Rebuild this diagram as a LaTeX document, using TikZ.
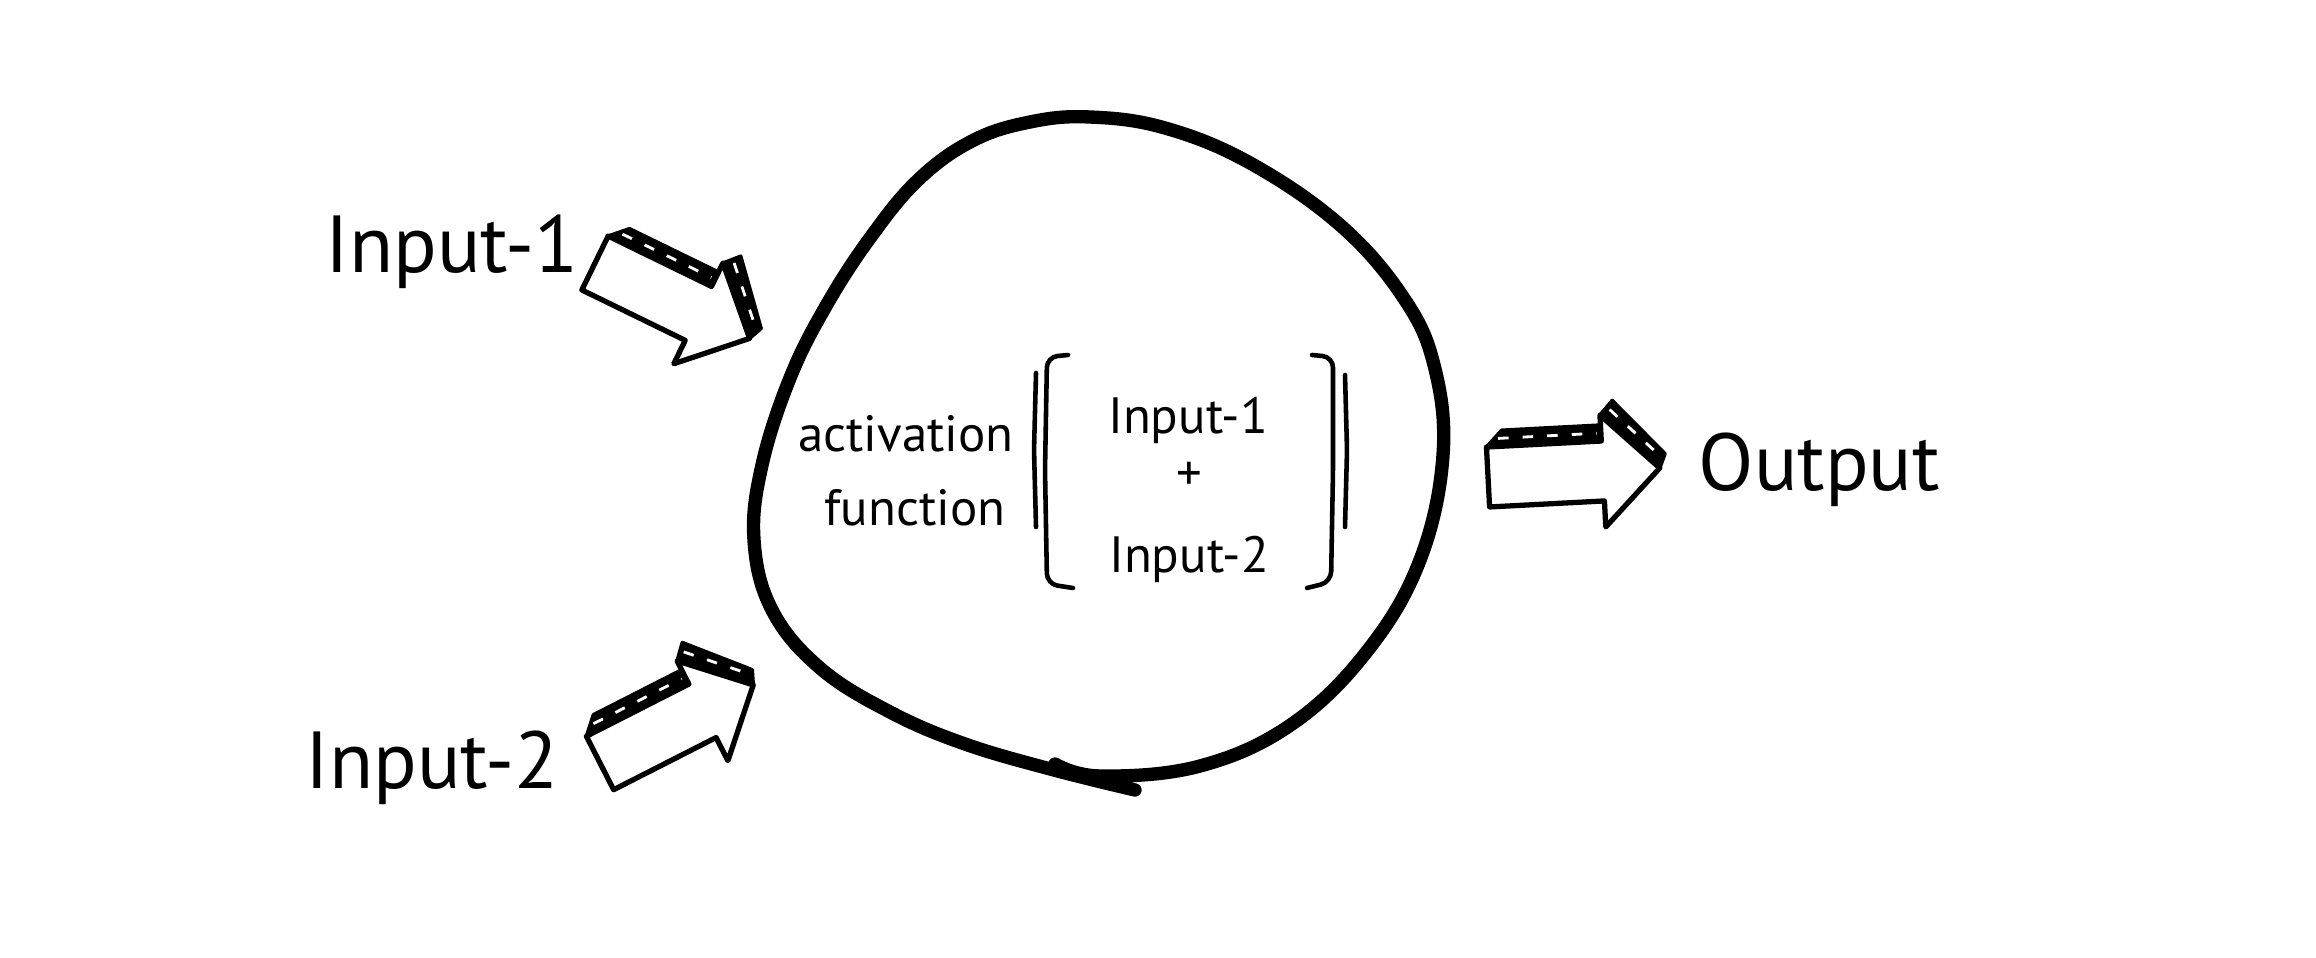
\documentclass[tikz,border=0pt]{standalone}
\usepackage{fontspec}
\setmainfont{PT Sans}
\begin{document}
\begin{tikzpicture}[x=0.01cm, y=-0.01cm]
  \tikzstyle{lbl}=[font=\fontsize{23}{27}\selectfont, inner sep=0pt]
  \tikzstyle{innertxt}=[font=\fontsize{14.5}{20}\selectfont, inner sep=0pt, anchor=base]
  \tikzstyle{barline}=[line width=1.3pt, line cap=round, line join=round, rounded corners=3pt]
  \tikzstyle{blk}=[draw, fill=white, line width=1.5pt, line join=round]
  \tikzstyle{face}=[draw, fill=black, line width=1pt, line join=round]
  \tikzstyle{hatch}=[white, line width=0.8pt, dash pattern=on 3pt off 4pt]
  \useasboundingbox[fill=white] (0,0) rectangle (2316,958);

  % neuron
  \draw[line width=3.8pt, line cap=round] plot[smooth, tension=0.65] coordinates {
    (1055,764) (1100,776) (1200,766) (1292,724) (1368,650) (1420,560) (1443,455)
    (1434,365) (1403,297) (1340,225) (1250,163) (1165,128) (1090,117) (1030,122)
    (972,141) (918,180) (870,238) (826,306) (790,378) (762,465) (754,540) (772,610)
    (820,668) (890,712) (965,744) (1054,770) (1135,790)};

  \node[innertxt] (act) at (906,452) {activation};
  \node[innertxt] (fn) at (915,525) {function};
  \node[innertxt] (sum1) at (1188,433) {Input-1};
  \node[innertxt] (plus) at (1189,490) {+};
  \node[innertxt] (sum2) at (1189,572) {Input-2};

  % brackets
  \draw[barline] (1068,355) -- (1047,357) -- (1045,470) -- (1047,584) -- (1073,588);
  \draw[barline] (1312,355) -- (1333,357) -- (1333,470) -- (1331,582) -- (1307,588);
  \draw[barline] (1036,373) -- (1034,450) -- (1036,527);
  \draw[barline] (1345,375) -- (1347,450) -- (1345,527);

  \node[lbl, anchor=base west] (in1) at (325,273) {Input-1};
  \node[lbl, anchor=base west] (in2) at (305,788) {Input-2};
  \node[lbl, anchor=base west] (out) at (1698,490) {Output};

  % block arrows
  \foreach \px/\py/\ang in {595/263/-26, 600/763/27, 1488/477/3} {
    \begin{scope}[shift={(\px,\py)}, rotate=\ang]
      \draw[blk] (0,-30) -- (115,-30) -- (115,-56) -- (172,0) -- (115,56) -- (115,30) -- (0,30) -- cycle;
      \draw[face] (0,-30) -- (115,-30) -- (115,-46) -- (16,-46) -- cycle;
      \draw[face] (115,-56) -- (172,0) -- (178,-14) -- (128,-70) -- cycle;
      \draw[hatch] (12,-38) -- (111,-38);
      \draw[hatch] (125,-61) -- (171,-14);
    \end{scope}
  }
\end{tikzpicture}
\end{document}
